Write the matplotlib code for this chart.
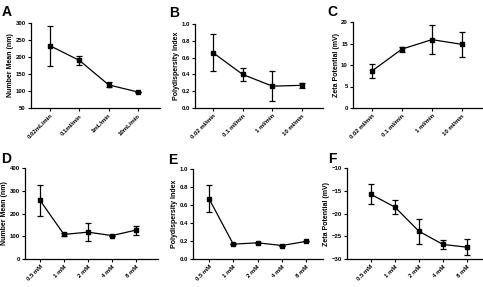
import matplotlib
matplotlib.use("Agg")
import matplotlib.pyplot as plt

plt.rcParams['font.family'] = ['Liberation Sans', 'DejaVu Sans']

# Data
cat_flow_A = ["0.02mL/min", "0.1ml/min", "1mL/min", "10mL/min"]
cat_flow = ["0.02 ml/min", "0.1 ml/min", "1 ml/min", "10 ml/min"]
cat_conc = ["0.5 mM", "1 mM", "2 mM", "4 mM", "8 mM"]

A_mean = [233, 190, 118, 97]
A_err = [58, 13, 7.5, 0]
B_mean = [0.66, 0.40, 0.26, 0.27]
B_err = [0.22, 0.08, 0.18, 0.03]
C_mean = [8.6, 13.7, 15.9, 14.8]
C_err = [1.6, 0.6, 3.3, 2.9]
D_mean = [258, 108, 118, 103, 127]
D_err = [68, 7, 40, 0, 20]
E_mean = [0.67, 0.165, 0.18, 0.15, 0.195]
E_err = [0.15, 0, 0, 0, 0]
F_mean = [-15.8, -18.6, -23.9, -26.8, -27.4]
F_err = [2.2, 1.6, 2.7, 1.0, 1.7]

W, H = 483, 287
fig = plt.figure(figsize=(W / 100, H / 100), dpi=100)

def ax_px(x0, x1, ytop, ybot):
    return fig.add_axes([x0 / W, 1 - ybot / H, (x1 - x0) / W, (ybot - ytop) / H])

panels = [
    dict(letter="A", box=(31, 160, 23, 108), cats=cat_flow_A, m=A_mean, e=A_err,
         ylim=(50, 300), yticks=[50, 100, 150, 200, 250, 300], ylabel="Number Mean (nm)",
         xlim=(-0.65, 3.75), lpos=(2, 12), fmt=None),
    dict(letter="B", box=(195, 323, 24, 108), cats=cat_flow, m=B_mean, e=B_err,
         ylim=(0, 1.0), yticks=[0, 0.2, 0.4, 0.6, 0.8, 1.0], ylabel="Polydispersity Index",
         xlim=(-0.6, 3.7), lpos=(169, 13), fmt="%.1f"),
    dict(letter="C", box=(353, 483, 22, 108), cats=cat_flow, m=C_mean, e=C_err,
         ylim=(0, 20), yticks=[0, 5, 10, 15, 20], ylabel="Zeta Potential (mV)",
         xlim=(-0.63, 3.7), lpos=(327, 12), fmt=None),
    dict(letter="D", box=(25, 158, 168, 259), cats=cat_conc, m=D_mean, e=D_err,
         ylim=(0, 400), yticks=[0, 100, 200, 300, 400], ylabel="Number Mean (nm)",
         xlim=(-0.625, 4.92), lpos=(1, 159), fmt=None),
    dict(letter="E", box=(193, 323, 169, 259), cats=cat_conc, m=E_mean, e=E_err,
         ylim=(0, 1.0), yticks=[0, 0.2, 0.4, 0.6, 0.8, 1.0], ylabel="Polydispersity Index",
         xlim=(-0.66, 4.7), lpos=(168, 160), fmt="%.1f"),
    dict(letter="F", box=(347, 483, 168, 259), cats=cat_conc, m=F_mean, e=F_err,
         ylim=(-30, -10), yticks=[-30, -25, -20, -15, -10], ylabel="Zeta Potential (mV)",
         xlim=(-1.0, 4.67), lpos=(328, 159), fmt=None),
]

for p in panels:
    ax = ax_px(*p["box"])
    x = list(range(len(p["cats"])))
    ax.errorbar(x, p["m"], yerr=p["e"], color="black", marker="s", markersize=2.5,
                lw=0.9, elinewidth=0.9, capsize=2, capthick=0.9, clip_on=False)
    ax.set_xlim(*p["xlim"])
    ax.set_ylim(*p["ylim"])
    ax.set_yticks(p["yticks"])
    if p["fmt"]:
        ax.set_yticklabels([p["fmt"] % v for v in p["yticks"]])
    ax.set_xticks(x)
    ax.set_xticklabels(p["cats"], rotation=45, ha="right", rotation_mode="anchor",
                       fontsize=4.3, fontweight="bold")
    for lab in ax.get_yticklabels():
        lab.set_fontsize(4.3)
        lab.set_fontweight("bold")
    ax.set_ylabel(p["ylabel"], fontsize=5, fontweight="bold", labelpad=1)
    for s in ["top", "right"]:
        ax.spines[s].set_visible(False)
    for s in ["left", "bottom"]:
        ax.spines[s].set_linewidth(0.9)
    ax.tick_params(width=0.8, length=2.5, pad=1.2)
    fig.text(p["lpos"][0] / W, 1 - p["lpos"][1] / H, p["letter"], fontsize=10,
             fontweight="bold", ha="left", va="center")

fig.savefig("out.png", dpi=100)
